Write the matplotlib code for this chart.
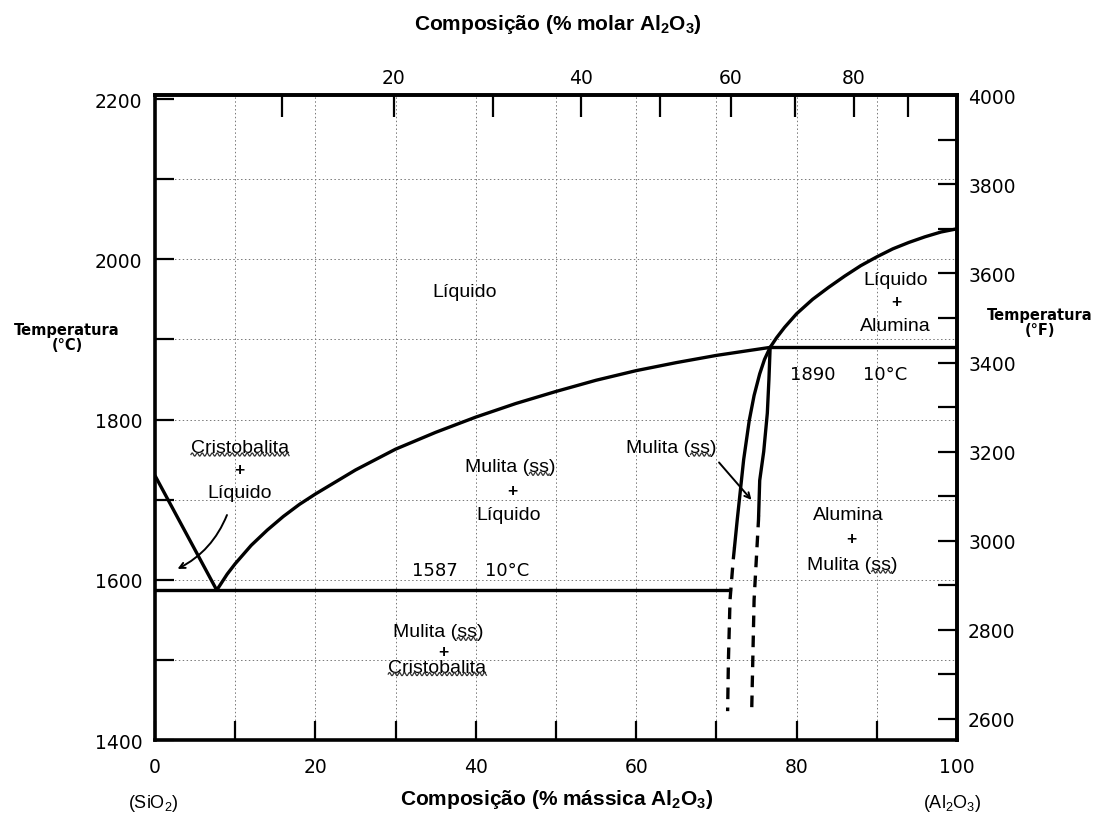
import numpy as np
import matplotlib.pyplot as plt
from matplotlib.lines import Line2D

plt.rcParams['font.family'] = ['Liberation Sans', 'DejaVu Sans']
plt.rcParams['mathtext.default'] = 'regular'

# molar masses used for the top (molar %) axis
M_AL2O3 = 101.96
M_SIO2 = 60.08

# phase boundaries (x = wt% Al2O3, t = degC)
liq_sio2_x = [0, 7.7]
liq_sio2_t = [1730, 1587]

liq_mul_x = [7.7, 9, 10, 12, 14, 16, 18, 20, 25, 30, 35, 40, 45, 50, 55, 60, 65, 70, 74, 76.7]
liq_mul_t = [1587, 1607, 1620, 1643, 1662, 1679, 1694, 1707, 1737, 1763, 1784, 1803,
             1820, 1835, 1849, 1861, 1871, 1880, 1886, 1890]

liq_al_x = [76.7, 77.5, 78.5, 80, 82, 84, 86, 88, 90, 92, 94, 96, 98, 100]
liq_al_t = [1890, 1902, 1915, 1932, 1950, 1965, 1979, 1992, 2003, 2013, 2021, 2028, 2034, 2038]

mul_left_x = [76.7, 76.0, 75.4, 74.7, 74.1, 73.4, 72.6, 72.1, 71.7, 71.5, 71.4]
mul_left_t = [1890, 1875, 1857, 1830, 1799, 1750, 1675, 1625, 1575, 1500, 1436]
mul_right_x = [76.7, 76.55, 76.35, 75.9, 75.4, 75.25, 74.7, 74.4]
mul_right_t = [1890, 1850, 1808, 1760, 1724, 1675, 1575, 1436]

eutectic_t = 1587
eutectic_x = [0, 71.7]
peritectic_t = 1890
peritectic_x = [76.7, 100]

x_ticks = [0, 20, 40, 60, 80, 100]
y_ticks = [1400, 1600, 1800, 2000, 2200]
f_ticks = [2600, 2800, 3000, 3200, 3400, 3600, 3800, 4000]
mol_ticks = [20, 40, 60, 80]


def mass2mol(w):
    w = np.asarray(w, dtype=float)
    a = w / M_AL2O3
    return 100 * a / (a + (100 - w) / M_SIO2)


def mol2mass(m):
    m = np.asarray(m, dtype=float)
    a = m * M_AL2O3
    return 100 * a / (a + (100 - m) * M_SIO2)


def split_curve(x, t, t_cut):
    """split a boundary (listed top to bottom) into solid and dashed parts"""
    x = np.asarray(x, float)
    t = np.asarray(t, float)
    xc = np.interp(t_cut, t[::-1], x[::-1])
    top = t >= t_cut
    solid = (np.append(x[top], xc), np.append(t[top], t_cut))
    dash = (np.insert(x[~top], 0, xc), np.insert(t[~top], 0, t_cut))
    return solid, dash


fig = plt.figure(figsize=(10.98, 8.2), dpi=100)
ax = fig.add_axes([155 / 1098, 1 - 741 / 820, 802 / 1098, 645 / 820])
ax.set_xlim(0, 100)
# a hair above 2200 so that the 4000 degF tick (2204 degC) is kept
ax.set_ylim(1400, 2205)

# grid
ax.set_xticks(x_ticks)
ax.set_xticks(np.arange(10, 100, 20), minor=True)
ax.set_yticks(y_ticks)
ax.set_yticks(np.arange(1500, 2200, 200), minor=True)
ax.grid(which='both', color='#777777', lw=0.7, ls=(0, (1.5, 2.5)))
ax.yaxis.get_gridlines()[-1].set_visible(False)
ax.tick_params(which='both', direction='in', length=14, width=1.6,
               labelsize=13.5, labelfontfamily='DejaVu Sans')
ax.tick_params(axis='x', pad=12)
ax.tick_params(axis='y', pad=9)
for s in ax.spines.values():
    s.set_linewidth(2.6)

line_kw = dict(color='black', lw=2.4, solid_joinstyle='round', solid_capstyle='round')
ax.plot(liq_sio2_x, liq_sio2_t, **line_kw)
ax.plot(liq_mul_x, liq_mul_t, **line_kw)
ax.plot(liq_al_x, liq_al_t, **line_kw)
ax.plot(eutectic_x, [eutectic_t] * 2, **line_kw)
ax.plot(peritectic_x, [peritectic_t] * 2, **line_kw)

for xs, ts, cut in [(mul_left_x, mul_left_t, 1640), (mul_right_x, mul_right_t, 1680)]:
    solid, dash = split_curve(xs, ts, cut)
    ax.plot(*solid, **line_kw)
    ax.plot(*dash, color='black', lw=2.4, ls=(0, (3.5, 2.5)))

# right axis in degF
secy = ax.secondary_yaxis('right', functions=(lambda c: np.asarray(c) * 9 / 5 + 32,
                                               lambda f: (np.asarray(f) - 32) * 5 / 9))
secy.set_yticks(f_ticks)
secy.set_yticks(np.arange(2700, 4000, 200), minor=True)
secy.tick_params(which='both', direction='in', length=14, width=1.6, pad=8,
                 labelsize=13.5, labelfontfamily='DejaVu Sans')
secy.spines['right'].set_linewidth(2.6)

# top axis in molar %
secx = ax.secondary_xaxis('top', functions=(mass2mol, mol2mass))
secx.set_xticks(mol_ticks)
secx.set_xticks(np.arange(10, 100, 20), minor=True)
secx.tick_params(which='both', direction='in', length=16, width=1.6, pad=6,
                 labelsize=13.5, labelfontfamily='DejaVu Sans')
secx.spines['top'].set_linewidth(2.6)

# region labels
fs = 14
plus = dict(fontsize=12.5, fontweight='bold', ha='center', va='center')
num = dict(fontsize=13, family='DejaVu Sans', ha='center', va='center')
ax.text(38.6, 1960, 'Líquido', fontsize=fs, ha='center', va='center')
ax.text(92.4, 1975, 'Líquido', fontsize=fs, ha='center', va='center')
ax.text(92.4, 1947, '+', **plus)
ax.text(92.3, 1917, 'Alumina', fontsize=fs, ha='center', va='center')
ax.text(82.0, 1857, '1890', **num)
ax.text(91.0, 1857, '10°C', **num)

t_cris1 = ax.text(10.6, 1765, 'Cristobalita', fontsize=fs, ha='center', va='center')
ax.text(10.5, 1738, '+', **plus)
ax.text(10.6, 1709, 'Líquido', fontsize=fs, ha='center', va='center')

t_ml = ax.text(44.3, 1741, 'Mulita (ss)', fontsize=fs, ha='center', va='center')
ax.text(44.5, 1712, '+', **plus)
ax.text(44.1, 1681, 'Líquido', fontsize=fs, ha='center', va='center')
ax.text(34.9, 1612, '1587', **num)
ax.text(43.9, 1612, '10°C', **num)

t_mc = ax.text(35.3, 1535, 'Mulita (ss)', fontsize=fs, ha='center', va='center')
ax.text(35.9, 1511, '+', **plus)
t_cris2 = ax.text(35.2, 1491, 'Cristobalita', fontsize=fs, ha='center', va='center')

t_mss = ax.text(64.4, 1765, 'Mulita (ss)', fontsize=fs, ha='center', va='center')

ax.text(86.4, 1681, 'Alumina', fontsize=fs, ha='center', va='center')
ax.text(86.8, 1652, '+', **plus)
t_am = ax.text(87.0, 1619, 'Mulita (ss)', fontsize=fs, ha='center', va='center')

# arrows
ax.annotate('', xy=(2.5, 1612), xytext=(9.1, 1684),
            arrowprops=dict(arrowstyle='->', lw=1.4, color='black',
                            connectionstyle='arc3,rad=-0.2'))
ax.annotate('', xy=(74.6, 1697), xytext=(70.1, 1749),
            arrowprops=dict(arrowstyle='->', lw=1.4, color='black'))

# axis titles
fig.text(558 / 1098, 1 - 25 / 820, 'Composição (% molar Al$_2$O$_3$)',
         fontsize=15, fontweight='bold', ha='center', va='center')
fig.text(557 / 1098, 1 - 800 / 820, 'Composição (% mássica Al$_2$O$_3$)',
         fontsize=15, fontweight='bold', ha='center', va='center')
fig.text(153 / 1098, 1 - 804 / 820, '(SiO$_2$)', fontsize=13, ha='center', va='center')
fig.text(952 / 1098, 1 - 804 / 820, '(Al$_2$O$_3$)', fontsize=13, ha='center', va='center')
fig.text(67 / 1098, 1 - 338 / 820, 'Temperatura\n(°C)', fontsize=10.5, fontweight='bold',
         family='DejaVu Sans', ha='center', va='center', linespacing=0.95)
fig.text(1040 / 1098, 1 - 323 / 820, 'Temperatura\n(°F)', fontsize=10.5, fontweight='bold',
         family='DejaVu Sans', ha='center', va='center', linespacing=0.95)

# wavy (spell-check style) underlines
fig.canvas.draw()
renderer = fig.canvas.get_renderer()


def wavy(txt, f0=0.0, f1=1.0):
    bb = txt.get_window_extent(renderer)
    x0 = bb.x0 + f0 * bb.width
    x1 = bb.x0 + f1 * bb.width
    xs = np.linspace(x0, x1, 200)
    ys = bb.y0 + 1.5 + 1.6 * np.sin((xs - x0) * 2 * np.pi / 5.0)
    pts = fig.transFigure.inverted().transform(np.column_stack([xs, ys]))
    fig.add_artist(Line2D(pts[:, 0], pts[:, 1], transform=fig.transFigure,
                          color='#333333', lw=0.9))


wavy(t_cris1)
wavy(t_cris2)
for t in (t_ml, t_mc, t_mss, t_am):
    wavy(t, 0.71, 0.93)

fig.savefig('out.png', dpi=100)
